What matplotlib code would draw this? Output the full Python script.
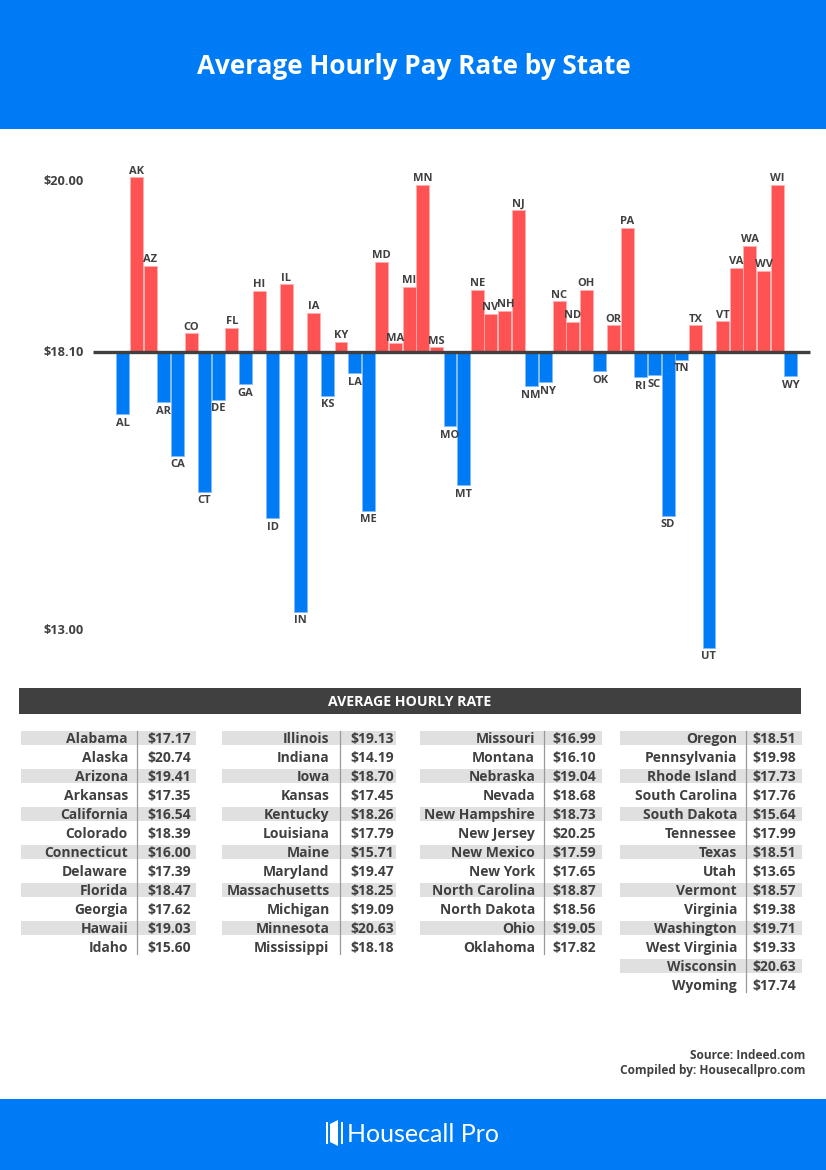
import matplotlib
matplotlib.use("Agg")
import matplotlib.pyplot as plt
from matplotlib.patches import Rectangle, Polygon

W, H = 826, 1170
BLUE = "#007BF6"
RED = "#FF5252"
DARK = "#404040"
FONT = "Open Sans"

states = ["Alabama", "Alaska", "Arizona", "Arkansas", "California", "Colorado", "Connecticut", "Delaware",
          "Florida", "Georgia", "Hawaii", "Idaho", "Illinois", "Indiana", "Iowa", "Kansas", "Kentucky",
          "Louisiana", "Maine", "Maryland", "Massachusetts", "Michigan", "Minnesota", "Mississippi",
          "Missouri", "Montana", "Nebraska", "Nevada", "New Hampshire", "New Jersey", "New Mexico",
          "New York", "North Carolina", "North Dakota", "Ohio", "Oklahoma", "Oregon", "Pennsylvania",
          "Rhode Island", "South Carolina", "South Dakota", "Tennessee", "Texas", "Utah", "Vermont",
          "Virginia", "Washington", "West Virginia", "Wisconsin", "Wyoming"]
abbr = ["AL", "AK", "AZ", "AR", "CA", "CO", "CT", "DE", "FL", "GA", "HI", "ID", "IL", "IN", "IA", "KS", "KY",
        "LA", "ME", "MD", "MA", "MI", "MN", "MS", "MO", "MT", "NE", "NV", "NH", "NJ", "NM", "NY", "NC", "ND",
        "OH", "OK", "OR", "PA", "RI", "SC", "SD", "TN", "TX", "UT", "VT", "VA", "WA", "WV", "WI", "WY"]
rates = [17.17, 20.74, 19.41, 17.35, 16.54, 18.39, 16.00, 17.39, 18.47, 17.62, 19.03, 15.60, 19.13, 14.19,
         18.70, 17.45, 18.26, 17.79, 15.71, 19.47, 18.25, 19.09, 20.63, 18.18, 16.99, 16.10, 19.04, 18.68,
         18.73, 20.25, 17.59, 17.65, 18.87, 18.56, 19.05, 17.82, 18.51, 19.98, 17.73, 17.76, 15.64, 17.99,
         18.51, 13.65, 18.57, 19.38, 19.71, 19.33, 20.63, 17.74]
average = 18.10
col_sizes = [12, 12, 12, 14]

# labels that sit off centre in the original, in points
nudge = {"NY": (1.5, 0), "NH": (0.8, 0), "NV": (-0.5, 0), "MA": (0, -1.5), "NM": (-0.5, 0)}

plt.rcParams["font.family"] = [FONT, "DejaVu Sans"]
plt.rcParams["font.weight"] = "bold"

fig = plt.figure(figsize=(W / 100, H / 100), dpi=100)

# page layer in pixel coordinates, y going down
bg = fig.add_axes([0, 0, 1, 1])
bg.set_xlim(0, W)
bg.set_ylim(H, 0)
bg.axis("off")

bg.add_patch(Rectangle((0, 0), W, 129, color=BLUE, lw=0))
bg.add_patch(Rectangle((0, 1099), W, 71, color=BLUE, lw=0))
bg.text(413.5, 66, "Average Hourly Pay Rate by State", color="white", fontsize=18.8,
        ha="center", va="center")

# chart axes, scale is 66.3 px per dollar around the 18.10 line at y=352
scale = 66.3
base_px = 352.5
top_px, bot_px = 140, 670
x0 = 122.9
step = 13.63
ax = fig.add_axes([0, 1 - bot_px / H, 1, (bot_px - top_px) / H])
ax.set_xlim((0 - x0) / step, (W - x0) / step)
ax.set_ylim(average - (bot_px - base_px) / scale, average + (base_px - top_px) / scale)
ax.axis("off")
ax.patch.set_alpha(0)

for i, (code, rate) in enumerate(zip(abbr, rates)):
    up = rate >= average
    dx, dy = nudge.get(code, (0, 0))
    ax.bar(i, rate - average, bottom=average, width=0.95, color=RED if up else BLUE,
           edgecolor="#FFB0B0" if up else "#7FBDFA", linewidth=0.6, zorder=2)
    ax.annotate(code, (i, rate), xytext=(dx, (0.5 if up else -2.5) + dy), textcoords="offset points",
                ha="center", va="bottom" if up else "top", color=DARK, fontsize=8)

ax.plot([(93 - x0) / step, (810 - x0) / step], [average, average], color=DARK, lw=2.4,
        solid_capstyle="butt", zorder=3)

for label, py in [("$20.00", 181.5), ("$18.10", 352.5), ("$13.00", 630.5)]:
    bg.text(84, py, label, ha="right", va="center", color=DARK, fontsize=9.2)

# table
bg.add_patch(Rectangle((19, 688), 782, 26, color=DARK, lw=0))
bg.text(410, 701.5, "AVERAGE HOURLY RATE", color="white", ha="center", va="center", fontsize=10.2)

band_x = [(21, 196), (222, 396), (420, 602), (620, 802)]
name_x = [128, 329.5, 535, 737]
div_x = [136.5, 340, 543.5, 745.5]
val_x = [147.5, 350, 552, 752]

start = 0
for c, size in enumerate(col_sizes):
    for r in range(size):
        y = 738 + 19 * r
        if r % 2 == 0:
            bg.add_patch(Rectangle((band_x[c][0], y - 7), band_x[c][1] - band_x[c][0], 14,
                                   color="#E0E0E0", lw=0, zorder=1))
        bg.text(name_x[c], y + 0.8, states[start + r], ha="right", va="center", color=DARK, fontsize=10, zorder=2)
        bg.text(val_x[c], y + 0.8, f"${rates[start + r]:.2f}", ha="left", va="center", color=DARK, fontsize=10, zorder=2)
    bg.plot([div_x[c], div_x[c]], [731, 738 + 19 * (size - 1) + 7], color="#999999", lw=0.9, zorder=3)
    start += size

bg.text(805, 1055.5, "Source: Indeed.com", ha="right", va="center", color=DARK, fontsize=8.6)
bg.text(805, 1070.5, "Compiled by: Housecallpro.com", ha="right", va="center", color=DARK, fontsize=8.6)

# logo
bg.add_patch(Rectangle((326, 1122), 2, 22, color="white", lw=0))
bg.add_patch(Rectangle((341, 1122), 2, 22, color="white", lw=0))
bg.add_patch(Polygon([(330, 1124), (338, 1120), (338, 1146), (330, 1142)], color="white", lw=0))
bg.text(347, 1134, "Housecall Pro", color="white", ha="left", va="center", fontsize=18,
        family="Lato", fontweight="normal")

fig.savefig("out.png", dpi=100)
